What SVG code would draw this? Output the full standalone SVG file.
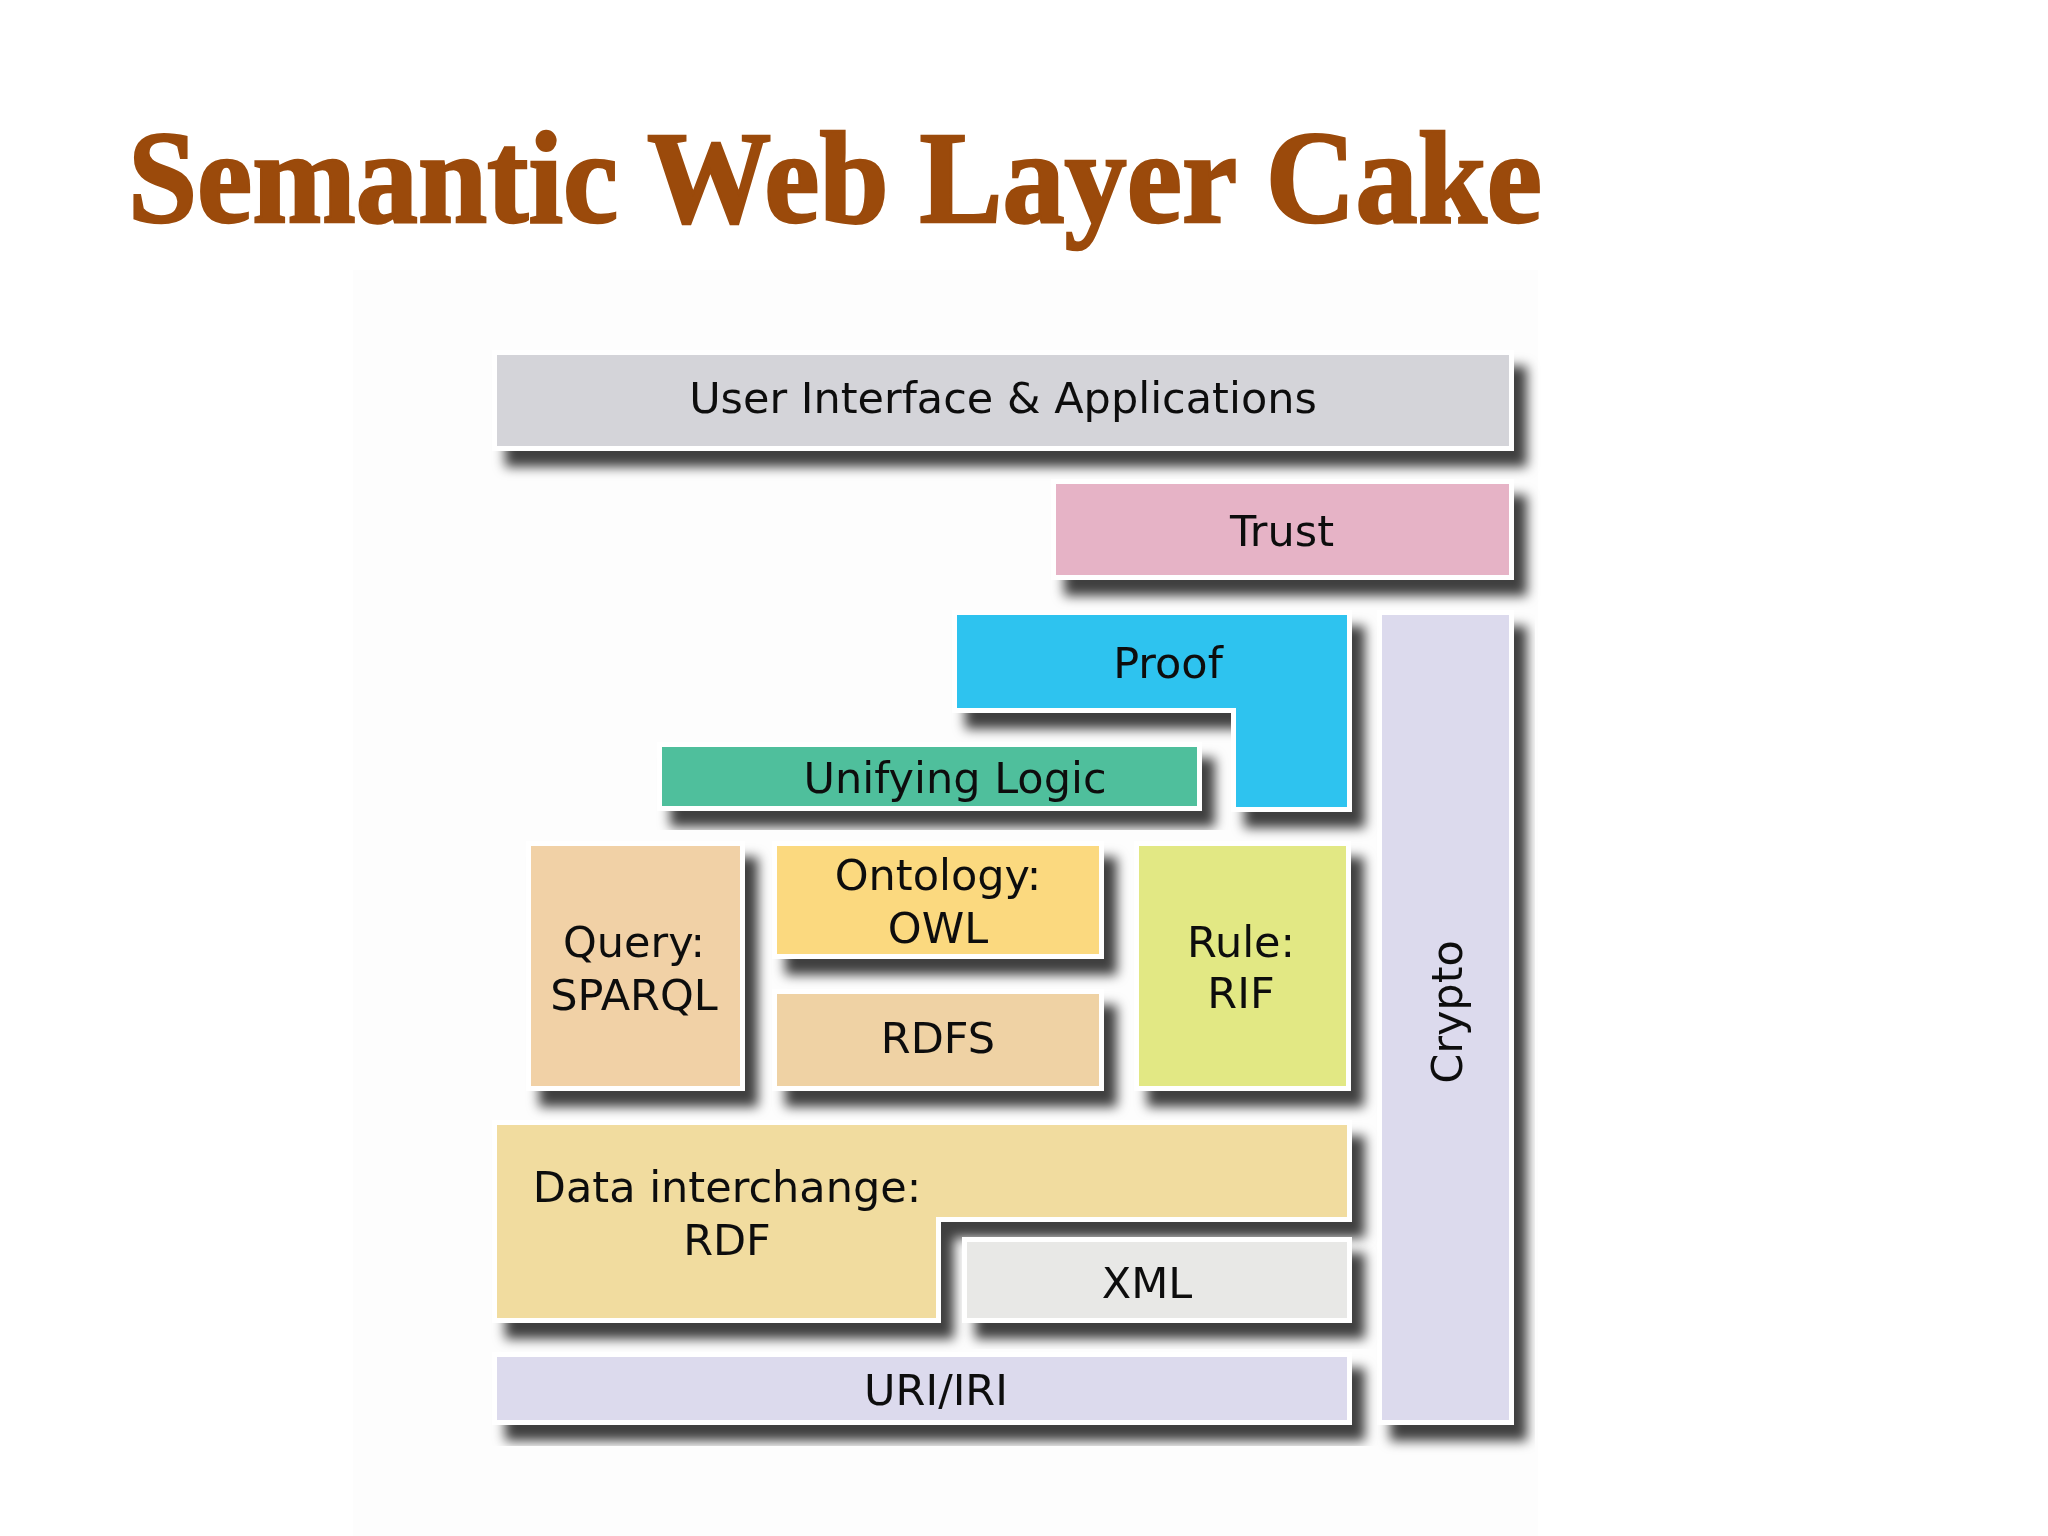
<svg xmlns="http://www.w3.org/2000/svg" width="2048" height="1536" viewBox="0 0 2048 1536">
  <defs>
    <filter id="sh" x="-10%" y="-20%" width="130%" height="160%">
      <feDropShadow dx="13" dy="16" stdDeviation="6" flood-color="#000" flood-opacity="0.75"/>
    </filter>
    <style>
      .box { stroke: #ffffff; stroke-width: 10; paint-order: stroke; stroke-linejoin: miter; }
      .lbl { font-family: "DejaVu Sans", Verdana, sans-serif; font-size: 43px; fill: #111111; text-anchor: middle; }
      .title { font-family: "Liberation Serif", "Times New Roman", serif; font-weight: bold; font-size: 132px; fill: #9b4a0b; stroke: #9b4a0b; stroke-width: 2.5; }
    </style>
  </defs>
  <rect x="0" y="0" width="2048" height="1536" fill="#ffffff"/>
  <rect x="353" y="270" width="1185" height="1266" fill="#fdfdfd"/>

  <text class="title" x="128" y="222" textLength="1414" lengthAdjust="spacingAndGlyphs">Semantic Web Layer Cake</text>

  <g id="ui" filter="url(#sh)">
    <rect class="box" x="497" y="355" width="1012" height="91" fill="#d4d4d9"/>
    <text class="lbl" x="1003" y="413">User Interface &amp; Applications</text>
  </g>
  <g id="trust" filter="url(#sh)">
    <rect class="box" x="1056" y="484" width="453" height="91" fill="#e6b3c6"/>
    <text class="lbl" x="1282" y="546">Trust</text>
  </g>
  <g id="crypto" filter="url(#sh)">
    <rect class="box" x="1382" y="615" width="127" height="805" fill="#dcdaed"/>
    <text class="lbl" transform="translate(1462 1012) rotate(-90)" x="0" y="0">Crypto</text>
  </g>
  <g id="proof" filter="url(#sh)">
    <path class="box" d="M957 615 H1347 V807 H1236 V708 H957 Z" fill="#2ec3ef"/>
    <text class="lbl" x="1168" y="678">Proof</text>
  </g>
  <g id="logic" filter="url(#sh)">
    <rect class="box" x="662" y="747" width="535" height="59" fill="#50bf9c"/>
    <text class="lbl" x="955" y="793">Unifying Logic</text>
  </g>
  <g id="query" filter="url(#sh)">
    <rect class="box" x="531" y="846" width="209" height="240" fill="#f1d1a6"/>
    <text class="lbl" x="634" y="957">Query:</text>
    <text class="lbl" x="634" y="1010">SPARQL</text>
  </g>
  <g id="owl" filter="url(#sh)">
    <rect class="box" x="777" y="846" width="322" height="108" fill="#fbd97f"/>
    <text class="lbl" x="938" y="890">Ontology:</text>
    <text class="lbl" x="938" y="943">OWL</text>
  </g>
  <g id="rdfs" filter="url(#sh)">
    <rect class="box" x="777" y="994" width="322" height="92" fill="#efd2a4"/>
    <text class="lbl" x="938" y="1053">RDFS</text>
  </g>
  <g id="rule" filter="url(#sh)">
    <rect class="box" x="1139" y="846" width="207" height="240" fill="#e2e884"/>
    <text class="lbl" x="1241" y="957">Rule:</text>
    <text class="lbl" x="1241" y="1008">RIF</text>
  </g>
  <g id="rdf" filter="url(#sh)">
    <path class="box" d="M497 1125 H1347 V1217 H936 V1318 H497 Z" fill="#f1dc9f"/>
    <text class="lbl" x="727" y="1202">Data interchange:</text>
    <text class="lbl" x="727" y="1255">RDF</text>
  </g>
  <g id="xml" filter="url(#sh)">
    <rect class="box" x="967" y="1242" width="380" height="76" fill="#e8e8e6"/>
    <text class="lbl" x="1147" y="1298">XML</text>
  </g>
  <g id="uri" filter="url(#sh)">
    <rect class="box" x="497" y="1357" width="850" height="63" fill="#dcdaed"/>
    <text class="lbl" x="936" y="1405">URI/IRI</text>
  </g>
  <g id="connectors"/>
</svg>
